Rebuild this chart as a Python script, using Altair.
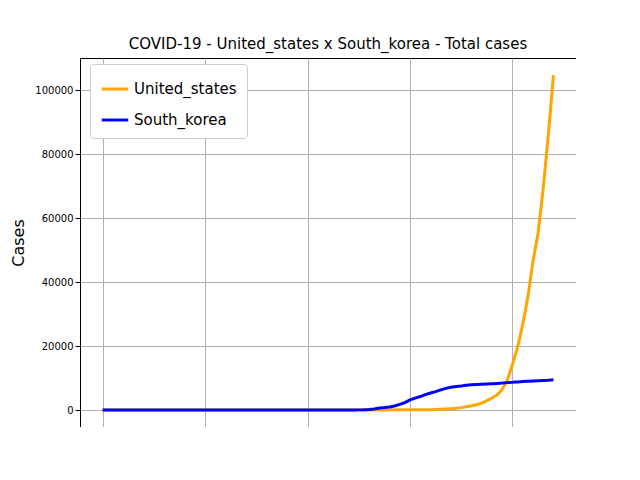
import altair as alt
import pandas as pd

days = list(range(89))

us_cases = [0] * 22 + [1, 1, 1, 2, 2, 3, 3, 5, 5, 5, 6, 7, 8, 11, 11, 11, 11, 12, 12, 12,
            12, 12, 13, 13, 14, 15, 15, 15, 15, 25, 25, 35, 35, 35, 53, 53, 59, 60, 66, 69,
            89, 103, 125, 159, 233, 338, 433, 554, 754, 1025, 1312, 1663, 2174, 2951, 3774,
            4661, 6427, 9415, 14250, 19624, 26747, 35206, 46442, 55231, 69194, 85991, 104686]

sk_cases = [0] * 21 + [1, 1, 1, 2, 2, 3, 4, 4, 4, 6, 11, 12, 15, 15, 16, 19, 23, 24, 24, 25,
            27, 28, 28, 28, 28, 28, 29, 30, 31, 51, 104, 204, 346, 602, 763, 977, 1261, 1766,
            2337, 3150, 3736, 4212, 4812, 5328, 5766, 6284, 6767, 7134, 7382, 7513, 7755, 7869,
            7979, 8086, 8162, 8236, 8320, 8413, 8565, 8652, 8799, 8897, 8961, 9037, 9137, 9241,
            9332, 9478]

countries = ["United_states", "South_korea"]
colors = ["orange", "#0000ff"]

df = pd.concat([
    pd.DataFrame({"day": days, "cases": us_cases, "country": countries[0]}),
    pd.DataFrame({"day": days, "cases": sk_cases, "country": countries[1]}),
])

chart = alt.Chart(df).mark_line(strokeWidth=3).encode(
    x=alt.X("day:Q", title="days", scale=alt.Scale(domain=[-4.4, 92.4], nice=False),
            axis=alt.Axis(values=[0, 20, 40, 60, 80])),
    y=alt.Y("cases:Q", title="Cases", scale=alt.Scale(domain=[-5300, 110000], nice=False),
            axis=alt.Axis(values=[0, 20000, 40000, 60000, 80000, 100000], format="d")),
    color=alt.Color("country:N", sort=countries,
                    scale=alt.Scale(domain=countries, range=colors),
                    legend=alt.Legend(title=None, orient="none", legendX=10, legendY=6,
                                      symbolType="stroke", symbolStrokeWidth=3, symbolSize=700,
                                      labelFontSize=15, labelFont="DejaVu Sans",
                                      strokeColor="#cccccc", fillColor="white", padding=10,
                                      cornerRadius=3, rowPadding=8)),
).properties(
    width=496, height=369,
    title=alt.TitleParams("COVID-19 - United_states x South_korea - Total cases",
                          fontSize=15, font="DejaVu Sans", fontWeight="normal", offset=6),
    autosize=alt.AutoSizeParams(type="none"),
    padding={"left": 72, "top": 50, "right": 0, "bottom": 0},
).configure_axis(
    grid=True, gridColor="#b0b0b0", domainColor="black", tickColor="black",
    labelFont="DejaVu Sans", labelFontSize=10, labelColor="black",
    titleFont="DejaVu Sans", titleFontSize=16, titleFontWeight="normal", titleColor="black",
).configure_axisY(titlePadding=8).configure_view(stroke="black")

chart.save("out.html", embed_options={"renderer": "svg", "actions": False})
